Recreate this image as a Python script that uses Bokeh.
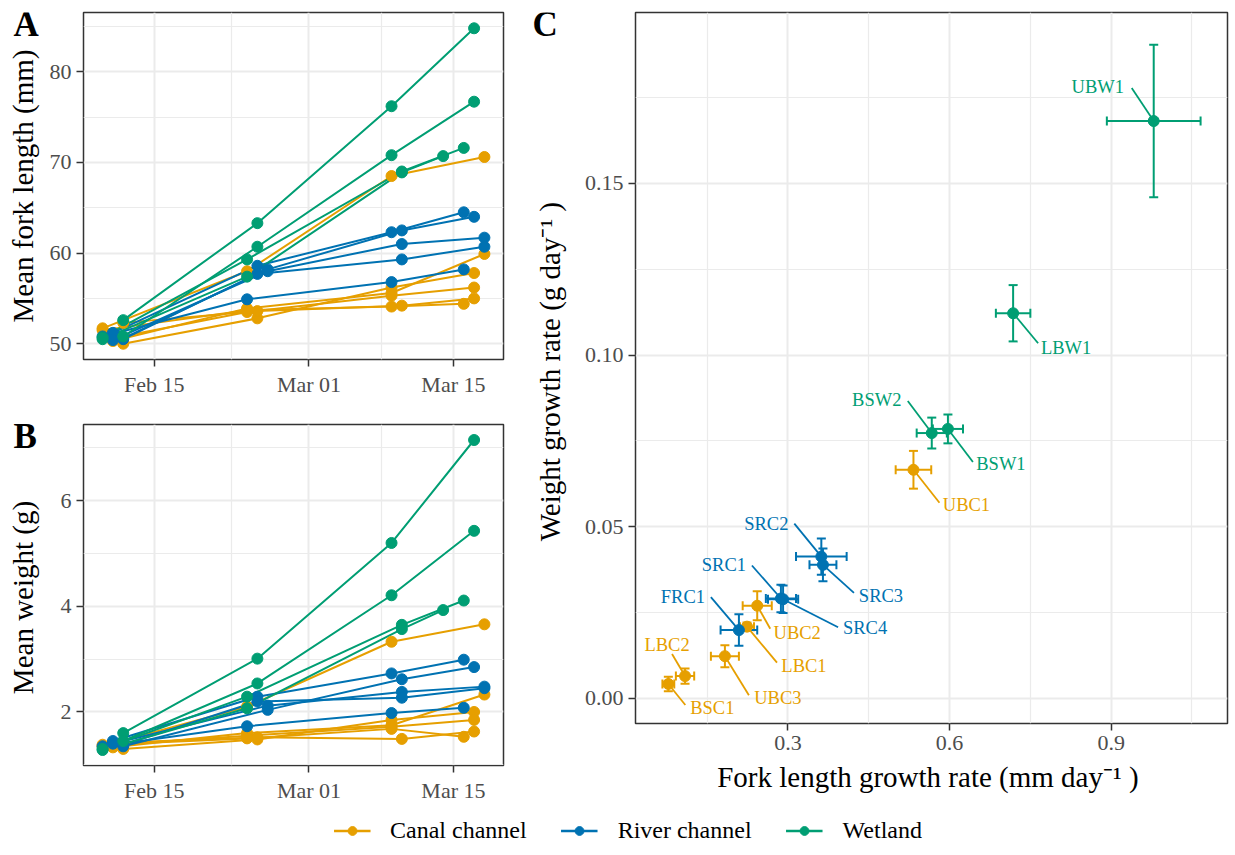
import math
import datetime as dt
from bokeh.plotting import figure
from bokeh.models import (Range1d, FixedTicker, DatetimeTickFormatter, Legend, LegendItem,
                          Whisker, TeeHead, ColumnDataSource, PrintfTickFormatter)
from bokeh.layouts import row, column
from bokeh.embed import file_html
from bokeh.resources import INLINE
from bokeh.core.properties import value

FONT = "Liberation Serif"
HABITATS = ["Canal channel", "River channel", "Wetland"]
HAB_COLORS = ["#E69F00", "#0072B2", "#009E73"]
COLOR = dict(zip(HABITATS, HAB_COLORS))

# ---------------- Panels A & B: per-site time series ----------------
sites = ["UBC1", "UBC2", "LBC1", "UBC3", "LBC2", "BSC1",
         "SRC2", "SRC3", "SRC1", "SRC4", "FRC1",
         "UBW1", "LBW1", "BSW1", "BSW2"]
site_habitat = ["Canal channel"] * 6 + ["River channel"] * 5 + ["Wetland"] * 4
site_dates = [
    ["2020-02-10", "2020-02-24", "2020-03-09", "2020-03-18"],
    ["2020-02-11", "2020-02-24", "2020-03-09", "2020-03-18"],
    ["2020-02-12", "2020-02-25", "2020-03-09", "2020-03-17"],
    ["2020-02-11", "2020-02-24", "2020-03-09", "2020-03-17"],
    ["2020-02-12", "2020-02-25", "2020-03-10", "2020-03-17"],
    ["2020-02-10", "2020-02-24", "2020-03-09", "2020-03-16"],
    ["2020-02-11", "2020-02-25", "2020-03-09", "2020-03-16"],
    ["2020-02-12", "2020-02-26", "2020-03-10", "2020-03-17"],
    ["2020-02-11", "2020-02-26", "2020-03-10", "2020-03-18"],
    ["2020-02-12", "2020-02-25", "2020-03-10", "2020-03-18"],
    ["2020-02-10", "2020-02-24", "2020-03-09", "2020-03-16"],
    ["2020-02-12", "2020-02-25", "2020-03-09", "2020-03-17"],
    ["2020-02-12", "2020-02-25", "2020-03-09", "2020-03-17"],
    ["2020-02-10", "2020-02-24", "2020-03-10", "2020-03-16"],
    ["2020-02-10", "2020-02-24", "2020-03-10", "2020-03-14"],
]
fork_length = [
    [51.7, 58.0, 68.5, 70.6],
    [50.3, 53.9, 55.6, 59.9],
    [50.0, 52.8, 56.2, 57.8],
    [50.6, 53.5, 55.3, 56.2],
    [52.3, 53.6, 54.2, 55.0],
    [51.5, 53.7, 54.1, 54.4],
    [51.2, 58.6, 62.3, 64.5],
    [50.6, 58.2, 62.5, 64.0],
    [50.4, 58.0, 61.0, 61.7],
    [50.5, 57.7, 59.3, 60.7],
    [50.8, 54.9, 56.8, 58.2],
    [52.6, 63.3, 76.2, 84.8],
    [50.8, 60.7, 70.8, 76.7],
    [50.7, 59.3, 69.0, 71.6],
    [50.5, 57.4, 68.9, 70.7],
]
weight = [
    [1.35, 2.10, 3.33, 3.66],
    [1.33, 1.60, 1.75, 2.33],
    [1.30, 1.48, 1.85, 2.00],
    [1.38, 1.55, 1.72, 1.85],
    [1.42, 1.52, 1.49, 1.63],
    [1.38, 1.50, 1.68, 1.53],
    [1.45, 2.29, 2.73, 2.99],
    [1.35, 2.04, 2.62, 2.85],
    [1.40, 2.12, 2.38, 2.48],
    [1.38, 2.20, 2.27, 2.45],
    [1.35, 1.73, 1.98, 2.08],
    [1.60, 3.01, 5.20, 7.15],
    [1.45, 2.54, 4.21, 5.43],
    [1.30, 2.29, 3.65, 4.11],
    [1.28, 2.07, 3.57, 3.93],
]
date_ticks = ["2020-02-15", "2020-03-01", "2020-03-15"]
date_minor_ticks = ["2020-02-22 12:00", "2020-03-08 00:00"]
fl_ticks = [50, 60, 70, 80]
fl_minor = [45, 55, 65, 75, 85]
w_ticks = [2, 4, 6]
w_minor = [1, 3, 5, 7]

# ---------------- Panel C: growth rates ----------------
c_site = ["UBW1", "LBW1", "BSW2", "BSW1", "UBC1", "SRC2", "SRC3", "SRC1", "SRC4",
          "FRC1", "UBC2", "LBC1", "UBC3", "LBC2", "BSC1"]
c_habitat = ["Wetland", "Wetland", "Wetland", "Wetland", "Canal channel",
             "River channel", "River channel", "River channel", "River channel",
             "River channel", "Canal channel", "Canal channel", "Canal channel",
             "Canal channel", "Canal channel"]
fl_rate = [0.979, 0.718, 0.567, 0.597, 0.533, 0.362, 0.365, 0.287, 0.291, 0.209, 0.243, 0.224, 0.183, 0.109, 0.078]
fl_se = [0.087, 0.032, 0.028, 0.028, 0.033, 0.047, 0.025, 0.028, 0.028, 0.034, 0.027, 0.013, 0.026, 0.017, 0.011]
w_rate = [0.1682, 0.1122, 0.0773, 0.0785, 0.0666, 0.0413, 0.0389, 0.0291, 0.0289, 0.0199, 0.0270, 0.0209, 0.0123, 0.0065, 0.0042]
w_se = [0.0222, 0.0082, 0.0045, 0.0042, 0.0055, 0.0053, 0.0048, 0.0040, 0.0040, 0.0046, 0.0042, 0.0012, 0.0032, 0.0022, 0.0021]
c_xticks = [0.3, 0.6, 0.9]
c_xminor = [0.15, 0.45, 0.75, 1.05]
c_yticks = [0.0, 0.05, 0.10, 0.15]
c_yminor = [0.025, 0.075, 0.125, 0.175]

# label placement (pixel offsets from each point: style only)
lab_dx = [-56, 53, -55, 53, 53, -55, 58, -57, 82, -56, 40, 57, 53, -18, 44]
lab_dy = [-34, 35, -33, 35, 35, -33, 31, -34, 29, -33, 27, 39, 42, -31, 24]
seg_dx = [-22, 25, -24, 25, 26, -27, 31, -29, 55, -28, 13, 30, 24, -13, 17]
seg_dy = [-33, 30, -32, 33, 33, -33, 28, -33, 28, -33, 23, 36, 39, -22, 21]

# ---------------- helpers ----------------
EPOCH = dt.datetime(1970, 1, 1)


def ms(s):
    fmt = "%Y-%m-%d %H:%M" if " " in s else "%Y-%m-%d"
    return (dt.datetime.strptime(s, fmt) - EPOCH).total_seconds() * 1000.0


def expand(lo, hi, f=0.05):
    s = hi - lo
    return lo - f * s, hi + f * s


GRID = "#EBEBEB"
DARK = "#333333"
TICKCOL = "#4D4D4D"


def style(p):
    p.background_fill_color = "white"
    p.border_fill_color = "white"
    p.outline_line_color = DARK
    p.outline_line_width = 1.5
    for g in (p.xgrid, p.ygrid):
        g.grid_line_color = GRID
        g.grid_line_width = 2
        g.minor_grid_line_color = GRID
        g.minor_grid_line_width = 1.2
    for ax in (p.xaxis, p.yaxis):
        ax.axis_line_color = None
        ax.major_tick_line_color = DARK
        ax.major_tick_line_width = 1.5
        ax.major_tick_out = 7
        ax.major_tick_in = 0
        ax.minor_tick_line_color = None
        ax.major_label_text_font = FONT
        ax.major_label_text_font_size = "22px"
        ax.major_label_text_color = TICKCOL
        ax.major_label_standoff = 5
        ax.axis_label_text_font = FONT
        ax.axis_label_text_font_size = "29px"
        ax.axis_label_text_font_style = "normal"
        ax.axis_label_text_color = "black"


# ---------------- geometry (pixels) ----------------
TOTAL_H = 805
STRIP_L_W = 46           # strip holding tags A/B and their y titles
AB_W = 474               # panels A and B (frame 420 wide)
AB_LEFT, AB_RIGHT = 37, 17
A_H, A_TOP, A_BOTTOM = 400, 12, 41
B_H, B_TOP, B_BOTTOM = 405, 24, 35
STRIP_C_W = 60           # strip holding tag C and its y title
C_W, C_LEFT, C_RIGHT, C_TOP, C_BOTTOM = 655, 55, 8, 12, 82
TAG_BASE = 12            # tag anchor below the top of its panel frame


def strip(width, tags, titles):
    """Narrow helper figure: y axis titles (rotated) and bold panel tags.
    Its frame matches panel C's frame rows; data y equals canvas pixel y."""
    s = figure(width=width, height=TOTAL_H, x_range=Range1d(0, width),
               y_range=Range1d(TOTAL_H - C_BOTTOM, C_TOP),
               toolbar_location=None, output_backend="svg", x_axis_location=None, y_axis_location=None,
               min_border_left=0, min_border_right=0, min_border_top=C_TOP, min_border_bottom=C_BOTTOM)
    try:
        s.frame_align = False
    except Exception:
        pass
    s.grid.visible = False
    s.outline_line_color = None
    s.background_fill_color = "white"
    s.border_fill_color = "white"
    s.text(x=[t[1] for t in tags], y=[t[2] for t in tags], text=[t[0] for t in tags],
           text_font=value(FONT), text_font_size="35px", text_font_style="bold",
           text_color="black", text_align="left", text_baseline="alphabetic")
    s.text(x=[t[1] for t in titles], y=[t[2] for t in titles], text=[t[0] for t in titles],
           angle=math.pi / 2, text_font=value(FONT), text_font_size="29px",
           text_color="black", text_align="center", text_baseline="middle")
    return s


# ---------------- time series panels ----------------
all_dates = [ms(d) for ds in site_dates for d in ds]
x_lo, x_hi = expand(min(all_dates), max(all_dates))


def time_panel(values, y_ticks, y_minor, top, bottom, height, fmt):
    flat = [v for vs in values for v in vs]
    y_lo, y_hi = expand(min(flat), max(flat))
    p = figure(width=AB_W, height=height, x_axis_type="datetime",
               x_range=Range1d(x_lo, x_hi), y_range=Range1d(y_lo, y_hi),
               toolbar_location=None, output_backend="svg",
               min_border_left=AB_LEFT, min_border_right=AB_RIGHT,
               min_border_top=top, min_border_bottom=bottom)
    style(p)
    p.xaxis.ticker = FixedTicker(ticks=[ms(d) for d in date_ticks],
                                 minor_ticks=[ms(d) for d in date_minor_ticks])
    p.xaxis.formatter = DatetimeTickFormatter(days="%b %d", months="%b %d", hours="%b %d",
                                              years="%b %d", hourmin="%b %d", minutes="%b %d")
    p.yaxis.ticker = FixedTicker(ticks=y_ticks, minor_ticks=y_minor)
    p.yaxis.formatter = PrintfTickFormatter(format=fmt)
    for ds, vs, h in zip(site_dates, values, site_habitat):
        p.line(x=[ms(d) for d in ds], y=vs, line_color=COLOR[h], line_width=2)
    for ds, vs, h in zip(site_dates, values, site_habitat):
        p.scatter(x=[ms(d) for d in ds], y=vs, size=11, fill_color=COLOR[h], line_color=COLOR[h])
    return p


pA = time_panel(fork_length, fl_ticks, fl_minor, A_TOP, A_BOTTOM, A_H, "%d")
pB = time_panel(weight, w_ticks, w_minor, B_TOP, B_BOTTOM, B_H, "%d")

a_mid = A_TOP + (A_H - A_TOP - A_BOTTOM) / 2
b_mid = A_H + B_TOP + (B_H - B_TOP - B_BOTTOM) / 2
stripL = strip(STRIP_L_W,
               tags=[("A", 13, A_TOP + TAG_BASE), ("B", 13, A_H + B_TOP + TAG_BASE)],
               titles=[("Mean fork length (mm)", 22, a_mid), ("Mean weight (g)", 22, b_mid)])

# ---------------- panel C ----------------
FC_W = C_W - C_LEFT - C_RIGHT
FC_H = TOTAL_H - C_TOP - C_BOTTOM
cx_lo, cx_hi = expand(min(x - e for x, e in zip(fl_rate, fl_se)), max(x + e for x, e in zip(fl_rate, fl_se)))
cy_lo, cy_hi = expand(min(y - e for y, e in zip(w_rate, w_se)), max(y + e for y, e in zip(w_rate, w_se)))
pC = figure(width=C_W, height=TOTAL_H, x_range=Range1d(cx_lo, cx_hi), y_range=Range1d(cy_lo, cy_hi),
            toolbar_location=None, output_backend="svg",
            min_border_left=C_LEFT, min_border_right=C_RIGHT, min_border_top=C_TOP, min_border_bottom=C_BOTTOM)
style(pC)
pC.xaxis.axis_label_standoff = 8
pC.xaxis.ticker = FixedTicker(ticks=c_xticks, minor_ticks=c_xminor)
pC.yaxis.ticker = FixedTicker(ticks=c_yticks, minor_ticks=c_yminor)
pC.xaxis.formatter = PrintfTickFormatter(format="%.1f")
pC.yaxis.formatter = PrintfTickFormatter(format="%.2f")
pC.xaxis.axis_label = "Fork length growth rate (mm  day\u207b\u00b9 )"

ppx = FC_W / (cx_hi - cx_lo)
ppy = FC_H / (cy_hi - cy_lo)

for h in HABITATS:
    idx = [i for i, hh in enumerate(c_habitat) if hh == h]
    src = ColumnDataSource(dict(
        x=[fl_rate[i] for i in idx], y=[w_rate[i] for i in idx],
        xlo=[fl_rate[i] - fl_se[i] for i in idx], xhi=[fl_rate[i] + fl_se[i] for i in idx],
        ylo=[w_rate[i] - w_se[i] for i in idx], yhi=[w_rate[i] + w_se[i] for i in idx]))
    c = COLOR[h]
    pC.add_layout(Whisker(source=src, base="x", lower="ylo", upper="yhi", dimension="height",
                          line_color=c, line_width=2,
                          upper_head=TeeHead(size=9, line_color=c, line_width=2),
                          lower_head=TeeHead(size=9, line_color=c, line_width=2)))
    pC.add_layout(Whisker(source=src, base="y", lower="xlo", upper="xhi", dimension="width",
                          line_color=c, line_width=2,
                          upper_head=TeeHead(size=9, line_color=c, line_width=2),
                          lower_head=TeeHead(size=9, line_color=c, line_width=2)))
    pC.scatter(x="x", y="y", source=src, size=11, fill_color=c, line_color=c)

lab_src = ColumnDataSource(dict(
    x=fl_rate, y=w_rate, text=c_site, color=[COLOR[h] for h in c_habitat],
    dx=lab_dx, dy=lab_dy,
    x1=[x + d / ppx for x, d in zip(fl_rate, seg_dx)],
    y1=[y - d / ppy for y, d in zip(w_rate, seg_dy)]))
pC.segment(x0="x", y0="y", x1="x1", y1="y1", source=lab_src, line_color="color", line_width=1.8)
pC.text(x="x", y="y", text="text", source=lab_src, x_offset="dx", y_offset="dy",
        text_align="center", text_baseline="middle", text_font=value(FONT),
        text_font_size="18.5px", text_color="color")

c_mid = C_TOP + FC_H / 2
stripC = strip(STRIP_C_W, tags=[("C", 12, C_TOP + TAG_BASE)],
               titles=[("Weight growth rate (g  day\u207b\u00b9 )", 29, c_mid)])

# ---------------- legend ----------------
pL = figure(width=1235, height=50, x_range=Range1d(0, 1), y_range=Range1d(0, 1),
            toolbar_location=None, output_backend="svg", x_axis_location=None, y_axis_location=None,
            min_border=0, min_border_left=20)
pL.grid.visible = False
pL.outline_line_color = None
items = []
for h in HABITATS:
    es = ColumnDataSource(dict(x=[-5.0, -4.0], y=[-5.0, -5.0]))
    r1 = pL.line(x="x", y="y", source=es, line_color=COLOR[h], line_width=2.5)
    r2 = pL.scatter(x="x", y="y", source=es, size=11, fill_color=COLOR[h], line_color=COLOR[h])
    items.append(LegendItem(label=h, renderers=[r1, r2]))
leg = Legend(items=items, orientation="horizontal", location="center",
             label_text_font=FONT, label_text_font_size="24px", label_text_color="black",
             glyph_width=37, glyph_height=22, label_standoff=20, spacing=34, padding=0,
             border_line_color=None, background_fill_alpha=0)
pL.add_layout(leg, "center")

layout = column(row(stripL, column(pA, pB), stripC, pC), pL)
open("out.html", "w").write(file_html(layout, INLINE))
